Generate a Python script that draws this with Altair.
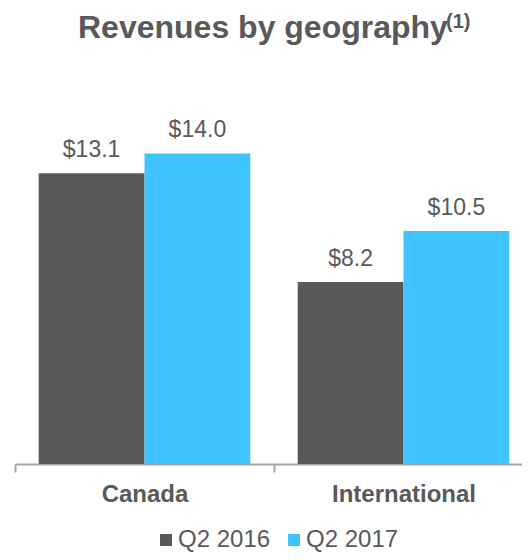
import altair as alt
import pandas as pd

title_main = "Revenues by geography"
title_note = "(1)"
regions = ["Canada", "International"]
periods = ["Q2 2016", "Q2 2017"]
q2_2016 = [13.1, 8.2]
q2_2017 = [14.0, 10.5]
colors = ["#595959", "#40C4FF"]

rows = []
for i, r in enumerate(regions):
    for p, vals in zip(periods, [q2_2016, q2_2017]):
        rows.append({"region": r, "period": p, "value": vals[i], "label": f"${vals[i]:.1f}"})
df = pd.DataFrame(rows)

FONT = "Liberation Sans, Arial, Helvetica, sans-serif"
TXT = "#595959"

x = alt.X(
    "region:N", sort=regions,
    scale=alt.Scale(paddingInner=0, paddingOuter=0, range=[0, 518]),
    axis=alt.Axis(title=None, labelAngle=0, labelFontSize=24, labelFontWeight="bold",
                  labelColor=TXT, labelFont=FONT, domainColor="#A6A6A6", domainWidth=2,
                  ticks=True, tickBand="extent", tickColor="#A6A6A6", tickWidth=2,
                  tickSize=8, labelPadding=10, grid=False),
)
xo = alt.XOffset("period:N", sort=periods, scale=alt.Scale(paddingInner=0, paddingOuter=0.224))
y = alt.Y("value:Q", scale=alt.Scale(domain=[0, 16]), axis=None)

bars = alt.Chart(df).mark_bar().encode(
    x=x, xOffset=xo, y=y,
    color=alt.Color(
        "period:N", sort=periods,
        scale=alt.Scale(domain=periods, range=colors),
        legend=alt.Legend(title=None, orient="none", legendX=139, legendY=419,
                          direction="horizontal", symbolType="square", symbolSize=144,
                          symbolStrokeWidth=0, labelFontSize=24, labelFont=FONT,
                          labelColor=TXT, columnPadding=11, labelOffset=0, padding=0),
    ),
)
text = alt.Chart(df).mark_text(baseline="alphabetic", dy=-16, fontSize=23, color=TXT, font=FONT).encode(
    x=x, xOffset=xo, y=y, text="label:N"
)

tdf = pd.DataFrame({"main": [title_main], "note": [title_note]})
t_main = alt.Chart(tdf).mark_text(align="left", baseline="alphabetic", fontSize=32,
                                  fontWeight="bold", color=TXT, font=FONT).encode(
    x=alt.value(63), y=alt.value(-71), text="main:N")
t_note = alt.Chart(tdf).mark_text(align="left", baseline="alphabetic", fontSize=20,
                                  fontWeight="bold", color=TXT, font=FONT).encode(
    x=alt.value(431), y=alt.value(-81), text="note:N")

chart = alt.layer(bars, text, t_main, t_note).properties(
    width=507, height=355,
    padding={"left": 7, "top": 101, "right": 0, "bottom": 88},
    autosize=alt.AutoSizeParams(type="none"),
).configure_view(stroke=None)

chart.save("out.html", embed_options={"renderer": "svg", "actions": False})
